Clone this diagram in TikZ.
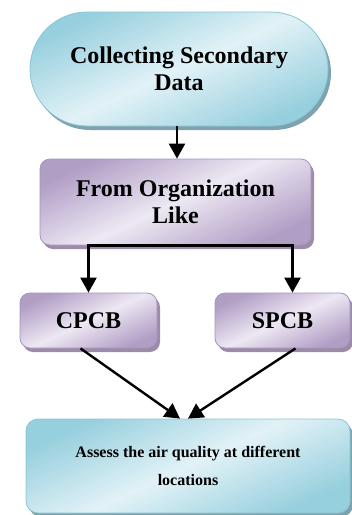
\documentclass[tikz,border=0pt]{standalone}
\usepackage{fontspec}
\setmainfont{Liberation Serif}
\usetikzlibrary{arrows.meta,shadows}
\definecolor{bluelight}{HTML}{E2F2F7}
\definecolor{bluedark}{HTML}{96CFDD}
\definecolor{blueline}{HTML}{88C5D4}
\definecolor{blueshade}{HTML}{7FA3AE}
\definecolor{purplelight}{HTML}{EDE8F3}
\definecolor{purpledark}{HTML}{B19EC5}
\definecolor{purpleline}{HTML}{A793BD}
\definecolor{purpleshade}{HTML}{9C8CA8}
\tikzset{
  bluebox/.style={draw=blueline,line width=.8pt,top color=bluedark,bottom color=bluedark,middle color=bluelight,shading angle=25,
    drop shadow={shadow xshift=3pt,shadow yshift=-4pt,fill=blueshade,opacity=1},align=center},
  purplebox/.style={draw=purpleline,line width=.8pt,top color=purpledark,bottom color=purpledark,middle color=purplelight,shading angle=25,
    drop shadow={shadow xshift=3pt,shadow yshift=-4pt,fill=purpleshade,opacity=1},align=center,rounded corners=10pt},
  bigtext/.style={font=\bfseries\fontsize{24}{27}\selectfont},
  flow/.style={-{Triangle[length=15pt,width=16pt]},line width=2.4pt}
}
\begin{document}
\begin{tikzpicture}[x=1pt,y=-1pt]
\useasboundingbox (0,0) rectangle (352,515);
\node[bluebox,bigtext,rounded corners=57pt,minimum width=298pt,minimum height=114pt] (collect) at(179,69) {Collecting Secondary\\Data};
\node[purplebox,bigtext,minimum width=271pt,minimum height=86pt] (org) at(175.5,202) {From Organization\\Like};
\node[purplebox,bigtext,minimum width=137pt,minimum height=55pt] (cpcb) at(88.5,320.5) {CPCB};
\node[purplebox,bigtext,minimum width=135pt,minimum height=55pt] (spcb) at(282.5,320.5) {SPCB};
\node[bluebox,rounded corners=12pt,font=\bfseries\fontsize{16}{28}\selectfont,minimum width=324pt,minimum height=94pt] (assess) at(188,466) {Assess the air quality at different\\locations};
\draw[flow] ([xshift=-2pt]collect.south) -- ([xshift=-2pt]collect.south |- org.north);
\draw[flow] (org.south) -| (cpcb.north);
\draw[flow] (org.south) -| ([xshift=10pt]spcb.north);
\draw[flow] ([xshift=-8pt]cpcb.south) -- ([xshift=-8pt]assess.north);
\draw[flow] ([xshift=13pt]spcb.south) -- (assess.north);
\end{tikzpicture}
\end{document}
